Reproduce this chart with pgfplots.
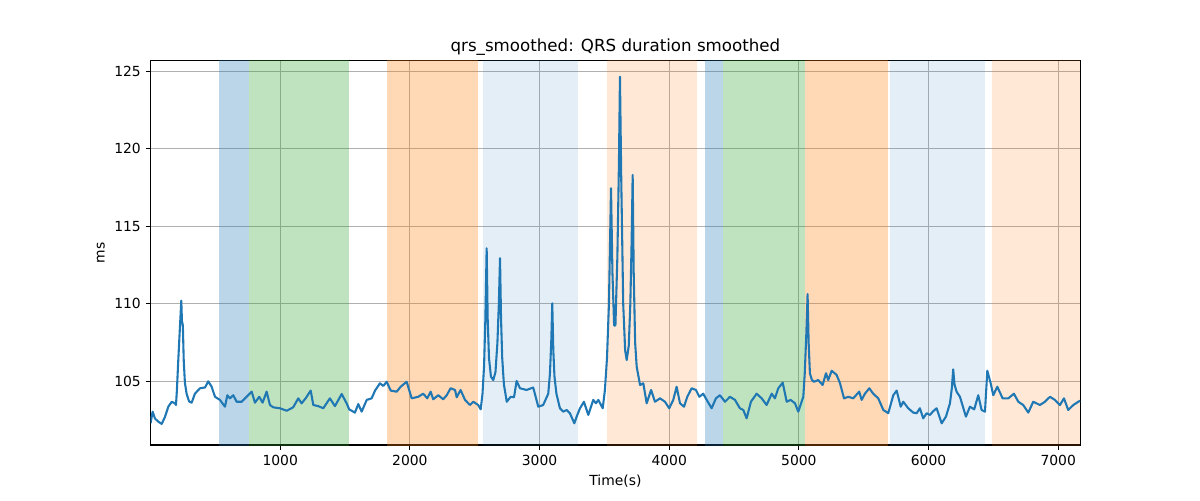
\documentclass[border=0pt]{standalone}
\usepackage{pgfplots}
\pgfplotsset{compat=1.18}
\usepackage{fontspec}
\setmainfont{DejaVu Sans}
\definecolor{tabblue}{HTML}{1F77B4}
\definecolor{taborange}{HTML}{FF7F0E}
\definecolor{tabgreen}{HTML}{2CA02C}
\definecolor{gridgray}{HTML}{B0B0B0}
\begin{document}
\begin{tikzpicture}[x=1pt,y=1pt]
\path[use as bounding box] (0,0) rectangle (864,360);
\begin{axis}[
  at={(108.4pt,39.6pt)}, anchor=south west,
  scale only axis, width=669.4pt, height=276.7pt,
  xmin=0, xmax=7170, ymin=100.89, ymax=125.68,
  xtick={1000,2000,3000,4000,5000,6000,7000},
  ytick={105,110,115,120,125},
  grid=major,
  major grid style={gridgray, line width=0.8pt},
  axis line style={black, line width=0.8pt},
  tick style={black, line width=0.8pt},
  tick align=outside, major tick length=3.5pt,
  xtick pos=bottom, ytick pos=left,
  /pgf/number format/assume math mode=true,
  /pgf/number format/1000 sep={},
  tick label style={font=\fontsize{10}{12}\selectfont},
  label style={font=\fontsize{10}{12}\selectfont},
  title style={font=\fontsize{12}{14}\selectfont, yshift=-6pt},
  title={qrs\_smoothed: QRS duration smoothed},
  xlabel={Time(s)}, ylabel={ms},
  clip=true,
]
% shaded segments
\addplot[draw=none, fill=tabblue, fill opacity=0.3] coordinates {(527,100) (527,126) (761,126) (761,100)} -- cycle;
\addplot[draw=none, fill=tabgreen, fill opacity=0.3] coordinates {(761,100) (761,126) (1528,126) (1528,100)} -- cycle;
\addplot[draw=none, fill=taborange, fill opacity=0.3] coordinates {(1823,100) (1823,126) (2525,126) (2525,100)} -- cycle;
\addplot[draw=none, fill=tabblue, fill opacity=0.12] coordinates {(2563,100) (2563,126) (3298,126) (3298,100)} -- cycle;
\addplot[draw=none, fill=taborange, fill opacity=0.17] coordinates {(3520,100) (3520,126) (4211,126) (4211,100)} -- cycle;
\addplot[draw=none, fill=tabblue, fill opacity=0.3] coordinates {(4275,100) (4275,126) (4412,126) (4412,100)} -- cycle;
\addplot[draw=none, fill=tabgreen, fill opacity=0.3] coordinates {(4412,100) (4412,126) (5049,126) (5049,100)} -- cycle;
\addplot[draw=none, fill=taborange, fill opacity=0.3] coordinates {(5049,100) (5049,126) (5687,126) (5687,100)} -- cycle;
\addplot[draw=none, fill=tabblue, fill opacity=0.12] coordinates {(5702,100) (5702,126) (6432,126) (6432,100)} -- cycle;
\addplot[draw=none, fill=taborange, fill opacity=0.17] coordinates {(6489,100) (6489,126) (7170,126) (7170,100)} -- cycle;
% signal
\addplot[tabblue, line width=1.5pt, line join=round, mark=none] coordinates {
(0,102.29) (16,103.04) (34,102.6) (59,102.4) (86,102.25) (111,102.7) (137,103.36) (163,103.68) (188,103.58) (196,103.47)
(203,104.4) (214,106.4) (226,108.4) (237,110.2) (242,108.9) (249,108.6) (256,106.3) (265,104.9) (278,104.2) (297,103.7) (317,103.62) (342,104.2) (381,104.55) (420,104.6) (445,105.0)
(471,104.65) (497,104.0) (535,103.8) (574,103.36) (592,104.1) (612,103.9) (638,104.1) (664,103.68) (703,103.68) (741,104.0)
(780,104.33) (805,103.62) (838,104.0) (864,103.62) (895,104.33) (921,103.47) (946,103.32) (998,103.26) (1050,103.1) (1100,103.32)
(1139,103.9) (1165,103.58) (1196,103.9) (1235,104.4) (1255,103.47) (1293,103.4) (1332,103.26) (1383,103.9) (1422,103.4) (1474,104.18)
(1512,103.58) (1532,103.19) (1576,102.98) (1602,103.53) (1628,103.04) (1667,103.8) (1705,103.9) (1731,104.4) (1769,104.87) (1795,104.7)
(1821,104.97) (1852,104.4) (1898,104.33) (1929,104.65) (1975,104.97) (2014,103.9) (2064,104.0) (2103,104.2) (2134,103.9) (2160,104.33)
(2180,103.84) (2219,104.1) (2257,103.84) (2284,104.1) (2314,104.55) (2348,104.44) (2361,103.97) (2391,104.44) (2425,103.8) (2463,103.47)
(2489,103.68) (2527,103.47) (2546,103.19) (2560,104.2) (2572,106.0) (2582,109.0) (2592,113.58) (2600,109.0) (2610,106.5) (2625,105.3) (2643,105.08)
(2660,105.6) (2675,107.5) (2686,110.0) (2695,112.94) (2703,109.0) (2712,106.5) (2725,104.8)
(2747,103.68) (2777,104.0) (2803,103.97) (2823,105.02) (2849,104.55) (2900,104.44) (2951,104.6) (2990,103.36) (3028,103.47) (3067,104.2)
(3080,105.5) (3090,107.5) (3098,110.03) (3106,107.0) (3115,105.3) (3130,104.2) (3157,103.26) (3183,103.04) (3209,103.15) (3234,102.94) (3268,102.29) (3291,102.83) (3312,103.26) (3342,103.68)
(3376,102.83) (3414,103.8) (3435,103.58) (3453,103.8) (3487,103.26) (3504,104.44) (3520,106.5) (3535,110.0) (3551,117.45) (3562,112.0) (3575,108.6) (3585,108.6)
(3600,113.0) (3612,119.0) (3620,124.65) (3630,118.0) (3645,110.0) (3660,107.0) (3672,106.37) (3688,107.3) (3700,110.0) (3710,114.0) (3718,118.31) (3726,112.0) (3737,107.5)
(3749,105.94) (3775,104.76) (3800,104.87) (3826,103.58) (3860,104.44) (3890,103.68) (3929,103.9) (3967,103.68)
(4000,103.26) (4031,103.8) (4057,104.65) (4083,103.58) (4114,103.36) (4139,104.0) (4173,104.55) (4206,104.44) (4232,104.0) (4262,104.2)
(4289,103.8) (4327,103.26) (4360,103.9) (4391,104.1) (4430,103.68) (4468,104.0) (4507,103.8) (4545,103.26) (4571,103.15) (4597,102.61)
(4630,103.68) (4674,104.2) (4713,103.9) (4751,103.47) (4790,104.2) (4815,103.9) (4841,104.55) (4875,104.91) (4906,103.68) (4936,103.8)
(4970,103.58) (4995,103.04) (5034,104.0) (5045,105.5) (5057,108.0) (5067,110.63) (5075,107.5) (5085,105.5) (5100,105.1) (5116,104.97) (5149,105.08) (5183,104.76) (5209,105.52)
(5226,105.08) (5253,105.68) (5291,105.41) (5317,104.87) (5348,103.9) (5381,104.0) (5419,103.9) (5465,104.33) (5484,103.8) (5509,104.2)
(5543,104.55) (5573,104.2) (5612,103.9) (5651,103.15) (5689,102.94) (5728,104.1) (5754,104.4) (5785,103.36) (5805,103.68) (5843,103.26)
(5882,102.98) (5908,102.94) (5933,103.26) (5959,102.61) (5985,102.94) (6011,102.83) (6032,103.04) (6062,103.26) (6101,102.29) (6134,102.72)
(6165,103.58) (6180,104.6) (6190,105.77) (6200,104.8) (6216,104.33) (6242,104.0) (6288,102.72) (6319,103.36) (6352,103.19) (6383,104.1) (6409,103.15) (6435,103.04)
(6453,105.68) (6479,104.87) (6499,104.1) (6530,104.65) (6571,103.9) (6615,103.9) (6658,104.2) (6692,103.68) (6730,103.47) (6769,102.98)
(6807,103.68) (6859,103.47) (6897,103.68) (6936,104.0) (6974,103.8) (7013,103.47) (7044,103.9) (7077,103.15) (7116,103.47) (7168,103.75)
};
\end{axis}
\end{tikzpicture}
\end{document}
